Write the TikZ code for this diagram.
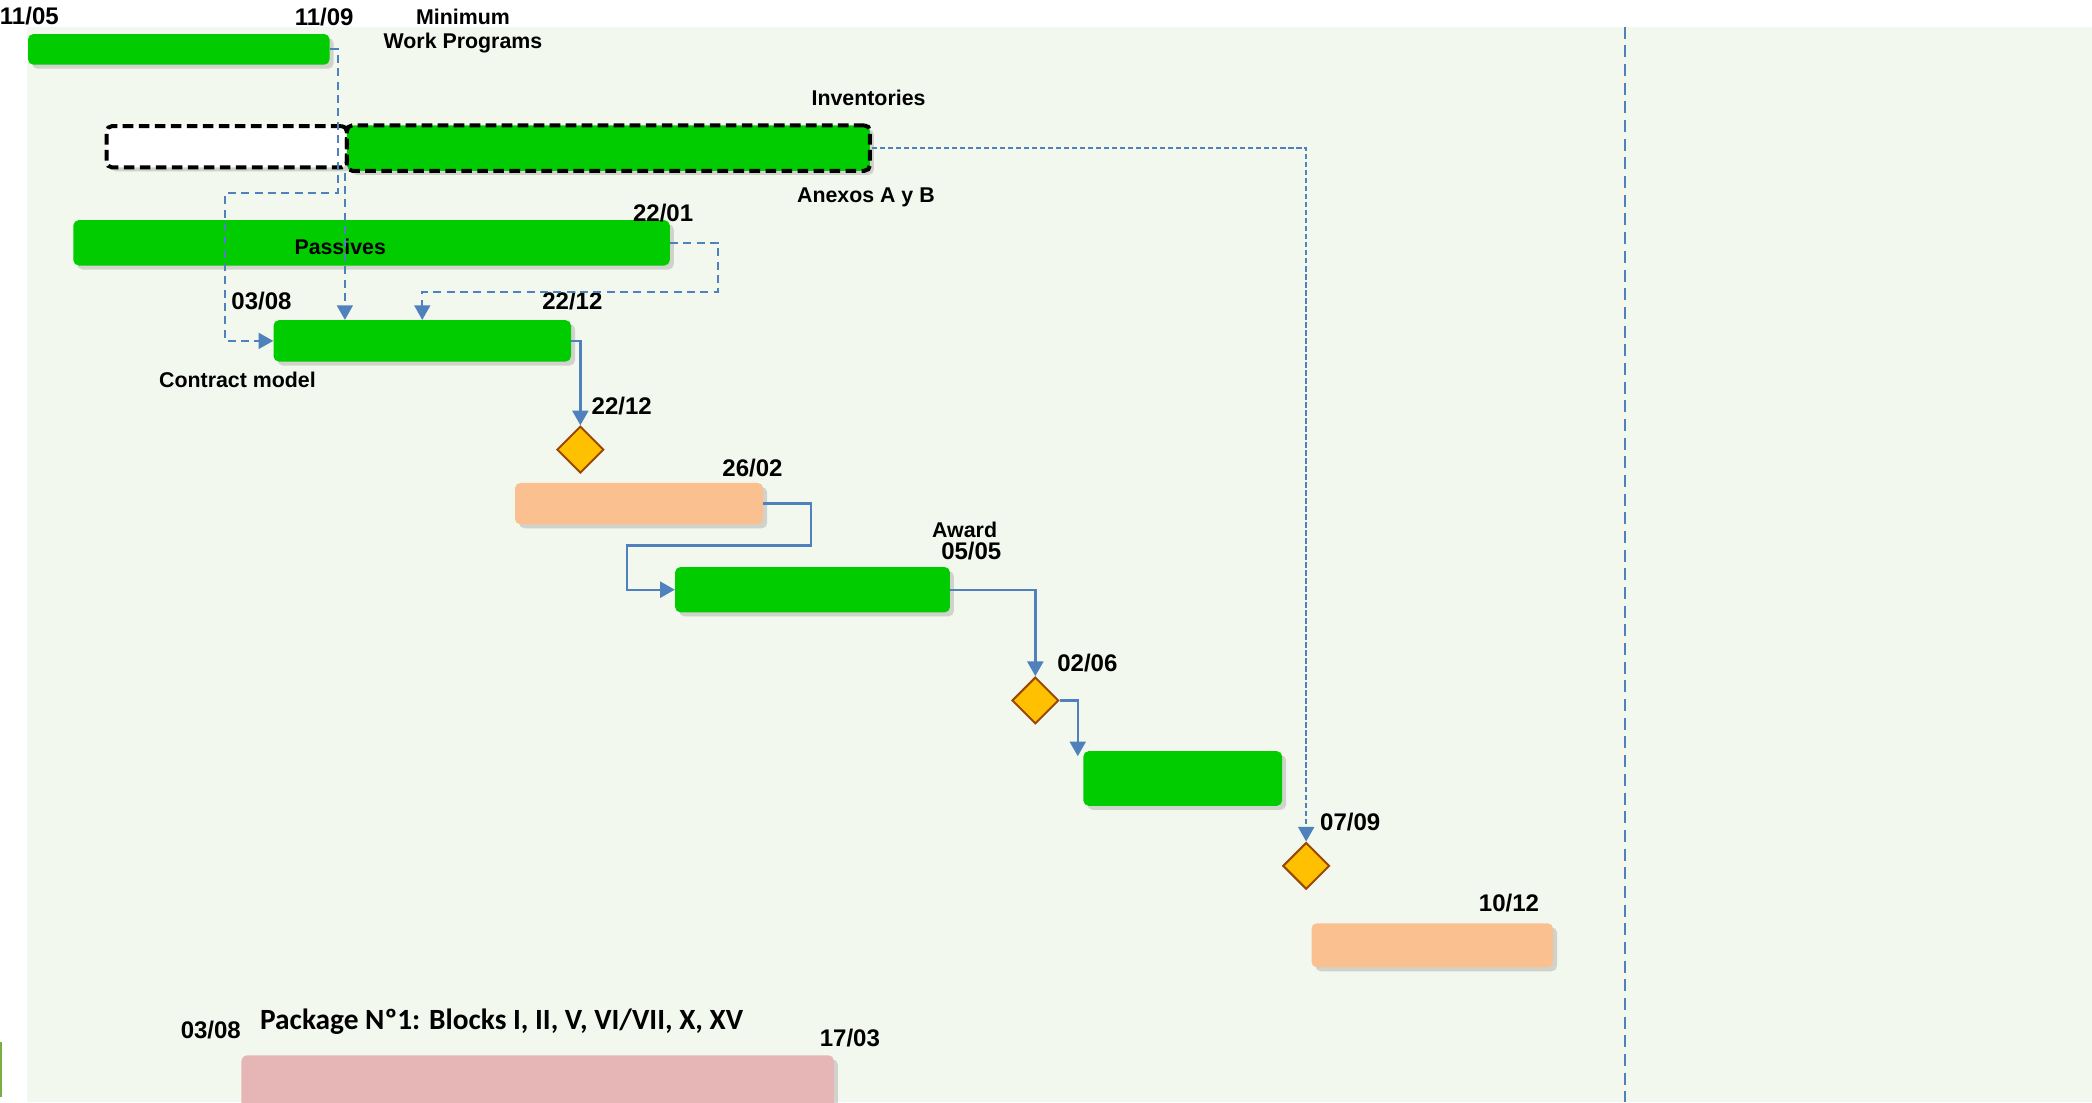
\documentclass[tikz,border=0pt]{standalone}
\usepackage{fontspec}
\setmainfont{Liberation Sans}
\newfontfamily\pkgfont{Carlito}
\usetikzlibrary{shapes.geometric,shadows,arrows.meta,calc}
\definecolor{bgc}{HTML}{F3F8EE}
\definecolor{barg}{HTML}{00CC00}
\definecolor{sal}{HTML}{FAC090}
\definecolor{pnk}{HTML}{E6B5B5}
\definecolor{dfill}{HTML}{FFC000}
\definecolor{ddraw}{HTML}{984807}
\definecolor{lnb}{HTML}{4F81BD}
\definecolor{sliver}{HTML}{77B041}
\begin{document}
\begin{tikzpicture}[x=1pt,y=-1pt,
  bar/.style 2 args={rectangle, rounded corners=4pt, inner sep=0pt,
    minimum width=#1, minimum height=#2,
    drop shadow={shadow xshift=3pt,shadow yshift=-3pt,opacity=0.3}},
  dashbox/.style={draw=black, line width=3pt, dash pattern=on 8pt off 4pt},
  ms/.style={diamond, aspect=1, minimum width=35pt, minimum height=35pt,
    inner sep=0pt, fill=dfill, draw=ddraw, line width=1.5pt},
  datef/.style={font=\bfseries\fontsize{18}{20}\selectfont, inner sep=0pt},
  labf/.style={font=\bfseries\fontsize{16}{18}\selectfont, inner sep=0pt, align=center},
  tipa/.style={-{Triangle[width=12pt,length=11pt]}},
  dline/.style={draw=lnb, line width=1.5pt, dash pattern=on 6pt off 4pt, tipa},
  fline/.style={draw=lnb, line width=1.5pt, dash pattern=on 4pt off 2pt, tipa},
  sline/.style={draw=lnb, line width=1.8pt, tipa}]
\useasboundingbox (0,0) rectangle (1568,826);
\fill[white] (0,0) rectangle (1568,826);
\fill[bgc] (20,20) rectangle (1568,826);
\fill[sliver] (0,781) rectangle (1.6,822);
\draw[lnb, line width=1.5pt, dash pattern=on 9pt off 5pt] (1218,20) -- (1218,826);

% bars
\node[bar={226}{23}, fill=barg] (mwp) at (134,37) {};
\node[bar={180}{31}, fill=white, dashbox] (invw) at (170,110) {};
\node[bar={392}{34}, fill=barg, dashbox] (inv) at (456,111) {};
\node[bar={447}{34}, fill=barg] (pas) at (278.5,182) {};
\node[bar={223}{31}, fill=barg] (con) at (316.5,255.5) {};
\node[ms] (dia1) at (435,337) {};
\node[bar={186}{31}, fill=sal] (sal1) at (479,377.5) {};
\node[bar={206}{34}, fill=barg] (aw) at (609,442) {};
\node[ms] (dia2) at (776,525) {};
\node[bar={149}{41}, fill=barg] (g4) at (886.5,583.5) {};
\node[ms] (dia3) at (979,649) {};
\node[bar={181}{33}, fill=sal] (sal2) at (1073.5,708.5) {};
\node[bar={444}{46}, fill=pnk] (pk) at (403,814) {};

% labels
\node[datef] (t1105) at (22,12) {11/05};
\node[datef] (t1109) at (243,13) {11/09};
\node[labf] (tmwp) at (347,23) {Minimum\\Work Programs};
\node[labf] (tinv) at (651,73) {Inventories};
\node[labf] (tanx) at (649,148) {Anexos A y B};
\node[datef] (t2201) at (497,160) {22/01};
\node[labf] (tpas) at (255,185) {Passives};
\node[datef] (t0308a) at (196,226) {03/08};
\node[datef] (t2212a) at (429,226) {22/12};
\node[labf] (tcon) at (178,285) {Contract model};
\node[datef] (t2212b) at (466,304) {22/12};
\node[datef] (t2602) at (564,351) {26/02};
\node[labf] (taw) at (723,397) {Award};
\node[datef] (t0505) at (728,413) {05/05};
\node[datef] (t0206) at (815,497) {02/06};
\node[datef] (t0709) at (1012,616) {07/09};
\node[datef] (t1012) at (1131,677) {10/12};
\node[datef] (t0308b) at (158,772) {03/08};
\node[font=\pkgfont\bfseries\fontsize{22}{24}\selectfont, inner sep=0pt] (tpk) at (376,766) {Package Nº1: Blocks I, II, V, VI/VII, X, XV};
\node[datef] (t1703) at (637,778) {17/03};

% connectors
\coordinate (c1a) at (253,145);
\coordinate (c1b) at (169,145);
\draw[dline] (mwp.east) -| (c1a) -- (c1b) |- (con.west);
\draw[dline] (inv.south west) -- (inv.south west |- con.north);
\coordinate (c3a) at (538,219);
\draw[dline] (pas.east) -| (c3a) -| (con.north);
\draw[fline] (inv.east) -| (dia3.north);
\draw[sline] (con.east) -| (dia1.north);
\coordinate (c6a) at (608,409);
\coordinate (c6b) at (470,409);
\draw[sline] (sal1.east) -| (c6a) -- (c6b) |- (aw.west);
\draw[sline] (aw.east) -| (dia2.north);
\coordinate (g4in) at ($(g4.north west)+(-4,4)$);
\draw[sline] (dia2.east) -| (g4in);
\end{tikzpicture}
\end{document}
